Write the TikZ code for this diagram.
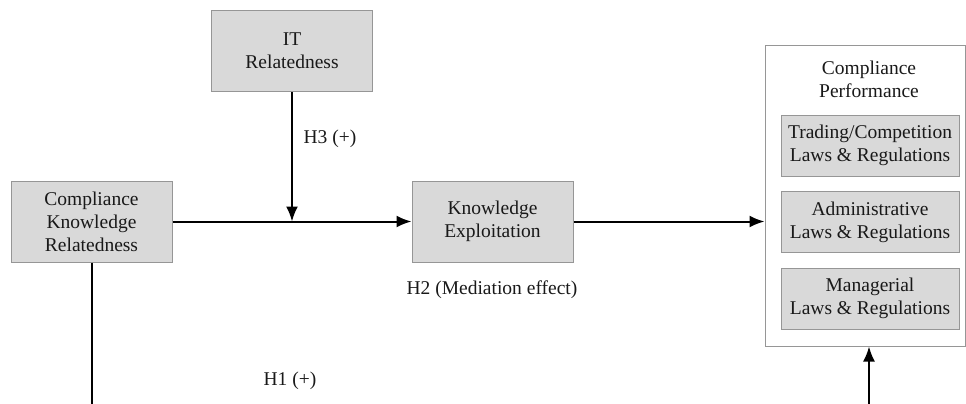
\documentclass[tikz,border=0pt]{standalone}
\usepackage{fontspec}
\setmainfont{Liberation Serif}
\usepackage{xcolor}
\usetikzlibrary{arrows.meta}
\definecolor{boxfill}{RGB}{217,217,217}
\definecolor{boxline}{RGB}{150,150,150}

\begin{document}
\begin{tikzpicture}[x = 1pt, y = -1pt,
    every node/.style = {font = \fontsize{19.5}{23}\selectfont, align = center, text = black!90},
    varbox/.style = {draw = boxline, fill = boxfill, line width = 1pt, minimum width = 161pt, minimum height = 81pt, inner sep = 0pt},
    subbox/.style = {draw = boxline, fill = boxfill, line width = 1pt, minimum width = 178pt, minimum height = 61pt, inner sep = 0pt},
    link/.style = {line width = 2pt, -{Latex[length = 15pt, width = 12pt]}}]
    \useasboundingbox (0, 0) rectangle (966, 404);
    % variables
    \node[varbox] (itrel) at (292, 51) {IT\\Relatedness};
    \node[varbox] (ckrel) at (91.5, 221.5) {Compliance\\Knowledge\\Relatedness};
    \node[varbox] (kexpl) at (492.5, 221.5) {Knowledge\\Exploitation};
    % outcome block
    \node[draw = boxline, line width = 1pt, minimum width = 200pt, minimum height = 300pt, inner sep = 0pt] (cperf) at (865, 196) {};
    \node (cptitle) at (869, 79) {Compliance\\Performance};
    \node[subbox] (trade) at (870, 145.5) {Trading/Competition\\Laws \& Regulations};
    \node[subbox] (admin) at (870, 222) {Administrative\\Laws \& Regulations};
    \node[subbox] (manag) at (870, 298.5) {Managerial\\Laws \& Regulations};
    % connectors
    \coordinate (join) at (itrel.south |- ckrel.east);
    \coordinate (h1down) at (91.5, 406);
    \coordinate (h1up) at (869, 406);
    \draw[link] (ckrel.east) -- (kexpl.west);
    \draw[link] (itrel.south) -- (join);
    \draw[link] (kexpl.east) -- (kexpl.east -| cperf.west);
    \draw[line width = 2pt] (ckrel.south) -- (h1down);
    \draw[link] (h1up) -- (h1up |- cperf.south);
    % hypotheses
    \node (hthree) at (330, 139) {H3 (+)};
    \node (htwo) at (492, 290) {H2 (Mediation effect)};
    \node (hone) at (290, 381) {H1 (+)};
\end{tikzpicture}
\end{document}
